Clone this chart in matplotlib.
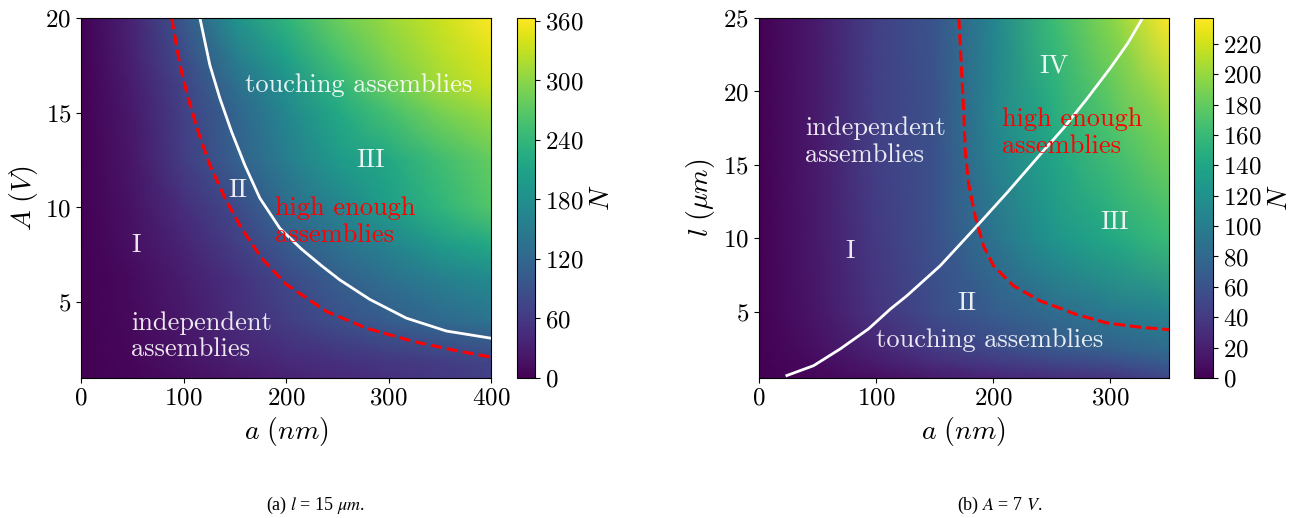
import numpy as np
import matplotlib
matplotlib.use("Agg")
import matplotlib.pyplot as plt

plt.rcParams['font.family'] = 'serif'
plt.rcParams['font.serif'] = ['cmr10', 'DejaVu Serif']
plt.rcParams['mathtext.fontset'] = 'cm'
plt.rcParams['axes.formatter.use_mathtext'] = True

# ---------------- panel (a): N(a, A), l = 15 um ----------------
a_left = [0, 50, 100, 150, 200, 250, 300, 350, 400]
A_left = [1, 1.85, 4, 6.3, 8, 10, 12.5, 15, 16.5, 18, 20]
N_left = [
    [0, 5, 14, 24, 34, 42, 50, 59, 69],
    [0, 7, 18, 30, 42, 50, 57, 65, 73],
    [0, 9, 24, 44, 65, 87, 105, 123, 138],
    [0, 11, 29, 51, 80, 109, 134, 156, 174],
    [0, 15, 36, 65, 102, 134, 163, 196, 218],
    [0, 18, 47, 80, 127, 163, 200, 236, 265],
    [0, 22, 65, 109, 152, 196, 218, 250, 276],
    [0, 25, 69, 116, 167, 218, 254, 287, 309],
    [0, 29, 73, 131, 182, 236, 280, 312, 334],
    [0, 33, 83, 152, 207, 258, 294, 323, 345],
    [0, 36, 98, 182, 236, 280, 309, 334, 363],
]
white_left_a = [116, 125.7, 135.5, 146.9, 159.8, 174.5, 194, 215, 234.6,
                252.4, 281.7, 317.4, 356.4, 400]
white_left_A = [20, 17.52, 15.76, 14.0, 12.24, 10.49, 8.9, 7.81, 6.93,
                6.18, 5.15, 4.16, 3.48, 3.1]
red_left_a = [88.4, 96.5, 104.6, 114.3, 125.7, 140.4, 156.6, 176.1, 200,
              239.5, 278.5, 323.9, 362.9, 400]
red_left_A = [20, 17.52, 15.76, 14.0, 12.24, 10.49, 8.9, 7.33, 5.95,
              4.51, 3.63, 2.93, 2.48, 2.1]

# ---------------- panel (b): N(a, l), A = 7 V ----------------
a_right = [0, 50, 100, 150, 200, 250, 300, 350]
l_right = [0.5, 1.5, 2.5, 5, 10, 17, 25]
N_right = [
    [0, 4, 9, 17, 24, 31, 36, 50],
    [0, 7, 17, 29, 39, 48, 55, 67],
    [0, 10, 24, 40, 52, 64, 73, 83],
    [0, 14, 36, 55, 69, 83, 97, 107],
    [0, 16, 40, 59, 90, 123, 142, 161],
    [0, 17, 45, 59, 107, 142, 168, 190],
    [0, 17, 45, 62, 107, 161, 194, 237],
]
white_right_a = [24.2, 47, 69.7, 93.6, 112.4, 126.4, 154.8, 186.2, 211.8,
                 240.2, 260, 280, 300, 315, 327.5]
white_right_l = [0.67, 1.34, 2.48, 3.83, 5.19, 6.09, 8.13, 10.84, 13.1,
                 15.71, 17.5, 19.5, 21.6, 23.3, 25]
red_right_a = [170.8, 172.2, 173.6, 175.1, 176.2, 179, 184.7, 191.8, 200.4,
               217.4, 240.2, 257.3, 270, 297.4, 325.9, 350]
red_right_l = [25, 22.94, 20.68, 18.42, 16.04, 13.78, 11.52, 9.49, 8.13,
               6.77, 5.75, 5.24, 4.85, 4.24, 3.95, 3.79]

W, H = 1306, 518
fig = plt.figure(figsize=(W / 100, H / 100), dpi=100)

def box(x0, y0, x1, y1):
    return [x0 / W, 1 - y1 / H, (x1 - x0) / W, (y1 - y0) / H]

axL = fig.add_axes(box(81, 18, 491, 378))
caxL = fig.add_axes(box(517, 18, 535, 378))
axR = fig.add_axes(box(758.5, 18, 1169, 378))
caxR = fig.add_axes(box(1194, 18, 1213, 378))

tfs = 18
lab_fs = 20
txt_fs = 19

# left heatmap
mL = axL.pcolormesh(a_left, A_left, np.array(N_left), shading='gouraud',
                    cmap='viridis', vmin=0, vmax=363, rasterized=True)
axL.plot(white_left_a, white_left_A, color='white', lw=2.0)
axL.plot(red_left_a, red_left_A, color='red', lw=2.2, ls='--')
axL.set_xlim(0, 400)
axL.set_ylim(1, 20)
axL.set_xticks([0, 100, 200, 300, 400])
axL.set_yticks([5, 10, 15, 20])
axL.set_xlabel(r'$a\ (nm)$', fontsize=lab_fs)
axL.set_ylabel(r'$A\ (V)$', fontsize=lab_fs)
axL.tick_params(labelsize=tfs)
cbL = fig.colorbar(mL, cax=caxL, ticks=[0, 60, 120, 180, 240, 300, 360])
caxL.tick_params(labelsize=tfs)
cbL.set_label(r'$N$', fontsize=lab_fs)
cbL.outline.set_linewidth(0.8)

wc = (1, 1, 1, 0.9)
axL.text(271, 16.45, 'touching assemblies', color=wc, fontsize=txt_fs, ha='center', va='center')
axL.text(283, 12.5, 'III', color=wc, fontsize=txt_fs, ha='center', va='center')
axL.text(153, 10.9, 'II', color=wc, fontsize=txt_fs, ha='center', va='center')
axL.text(54, 8.0, 'I', color=wc, fontsize=txt_fs, ha='center', va='center')
axL.text(189, 9.25, 'high enough\nassemblies', color='red', fontsize=txt_fs, ha='left', va='center', linespacing=1.2)
axL.text(49, 3.2, 'independent\nassemblies', color=wc, fontsize=txt_fs, ha='left', va='center', linespacing=1.15)

# right heatmap
mR = axR.pcolormesh(a_right, l_right, np.array(N_right), shading='gouraud',
                    cmap='viridis', vmin=0, vmax=237, rasterized=True)
axR.plot(white_right_a, white_right_l, color='white', lw=2.0)
axR.plot(red_right_a, red_right_l, color='red', lw=2.2, ls='--')
axR.set_xlim(0, 350)
axR.set_ylim(0.5, 25)
axR.set_xticks([0, 100, 200, 300])
axR.set_yticks([5, 10, 15, 20, 25])
axR.set_xlabel(r'$a\ (nm)$', fontsize=lab_fs)
axR.set_ylabel(r'$l\ (\mu m)$', fontsize=lab_fs)
axR.tick_params(labelsize=tfs)
cbR = fig.colorbar(mR, cax=caxR, ticks=list(range(0, 221, 20)))
caxR.tick_params(labelsize=tfs)
cbR.set_label(r'$N$', fontsize=lab_fs)
cbR.outline.set_linewidth(0.8)

axR.text(39.6, 16.6, 'independent\nassemblies', color=wc, fontsize=txt_fs, ha='left', va='center', linespacing=1.2)
axR.text(78, 9.1, 'I', color=wc, fontsize=txt_fs, ha='center', va='center')
axR.text(178, 5.6, 'II', color=wc, fontsize=txt_fs, ha='center', va='center')
axR.text(197, 3.07, 'touching assemblies', color=wc, fontsize=txt_fs, ha='center', va='center')
axR.text(252, 21.75, 'IV', color=wc, fontsize=txt_fs, ha='center', va='center')
axR.text(208, 17.2, 'high enough\nassemblies', color='red', fontsize=txt_fs, ha='left', va='center', linespacing=1.2)
axR.text(304, 11.1, 'III', color=wc, fontsize=txt_fs, ha='center', va='center')

# captions
fig.text(315 / W, 1 - 505 / H, r'(a) $l$ = 15 $\mu m$.', family='Liberation Serif',
         math_fontfamily='stix', fontsize=13, ha='center', va='center')
fig.text(1000 / W, 1 - 505 / H, r'(b) $A$ = 7 $V$.', family='Liberation Serif',
         math_fontfamily='stix', fontsize=13, ha='center', va='center')

fig.savefig('out.png', dpi=100)
